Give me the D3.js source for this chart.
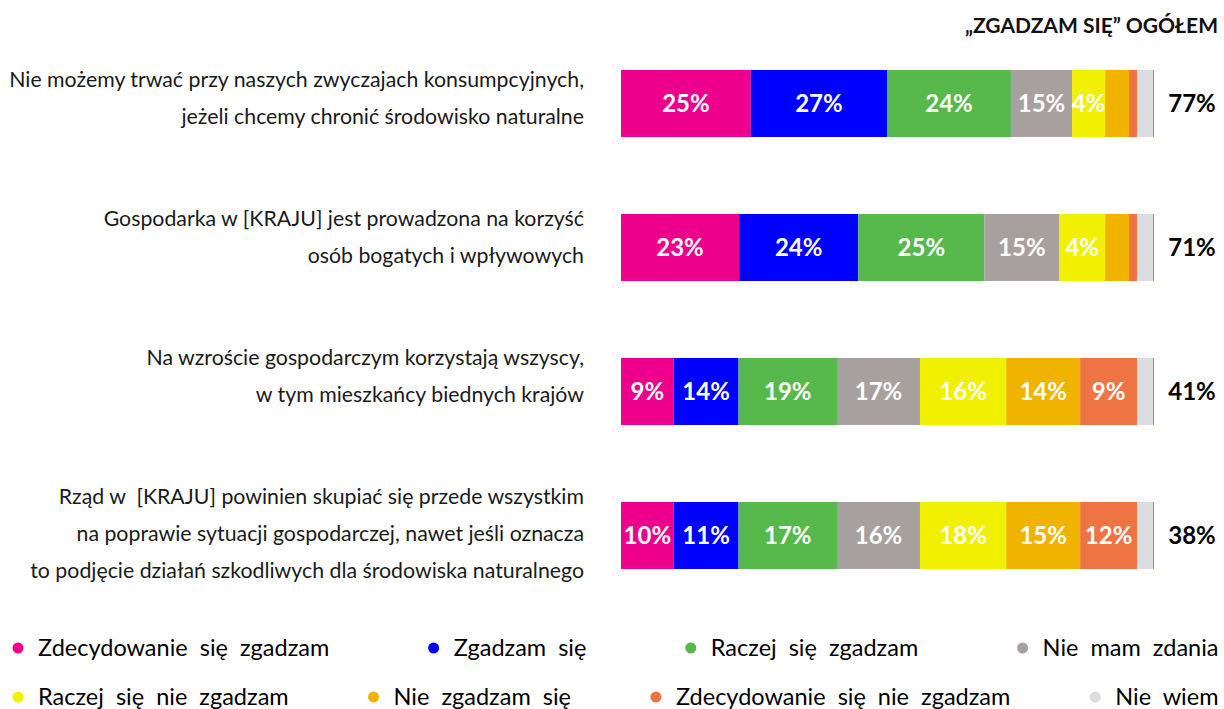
<!DOCTYPE html>
<html>
<head>
<meta charset="utf-8">
<script src="https://cdn.jsdelivr.net/npm/d3@7"></script>
<style>
  body { margin: 0; background: #fff; }
  svg { display: block; font-family: Lato, "Noto Sans", sans-serif; }
</style>
</head>
<body>
<svg id="chart" width="1224" height="709"></svg>
<script>
// Statements (label lines)
const categories = [
  ['Nie możemy trwać przy naszych zwyczajach konsumpcyjnych,', 'jeżeli chcemy chronić środowisko naturalne'],
  ['Gospodarka w [KRAJU] jest prowadzona na korzyść', 'osób bogatych i wpływowych'],
  ['Na wzroście gospodarczym korzystają wszyscy,', 'w tym mieszkańcy biednych krajów'],
  ['Rząd w  [KRAJU] powinien skupiać się przede wszystkim', 'na poprawie sytuacji gospodarczej, nawet jeśli oznacza', 'to podjęcie działań szkodliwych dla środowiska naturalnego'],
];

const seriesNames = [
  'Zdecydowanie się zgadzam', 'Zgadzam się', 'Raczej się zgadzam', 'Nie mam zdania',
  'Raczej się nie zgadzam', 'Nie zgadzam się', 'Zdecydowanie się nie zgadzam', 'Nie wiem',
];
const colors = ['#ec008c', '#0000ff', '#57b94b', '#a8a09e', '#f0f000', '#f0b400', '#ee7444', '#dcdcdc'];

// segment shares as drawn (per series, one value per statement)
const zdecydowanieTak = [24.4, 22.2, 9.9, 9.9];
const zgadzam = [25.6, 22.4, 12.2, 12.2];
const raczejTak = [23.3, 23.7, 18.5, 18.5];
const nieMamZdania = [11.5, 14.1, 15.6, 15.6];
const raczejNie = [6.2, 8.6, 16.2, 16.2];
const nieZgadzam = [4.5, 4.5, 13.9, 13.9];
const zdecydowanieNie = [1.5, 1.5, 10.7, 10.7];
const nieWiem = [3.0, 3.0, 3.0, 3.0];

// printed labels
const segmentLabels = [
  ['25%', '27%', '24%', '15%', '4%', '', '', ''],
  ['23%', '24%', '25%', '15%', '4%', '', '', ''],
  ['9%', '14%', '19%', '17%', '16%', '14%', '9%', ''],
  ['10%', '11%', '17%', '16%', '18%', '15%', '12%', ''],
];
const totals = ['77%', '71%', '41%', '38%'];

const series = [zdecydowanieTak, zgadzam, raczejTak, nieMamZdania, raczejNie, nieZgadzam, zdecydowanieNie, nieWiem];
const rows = categories.map((c, i) => {
  const r = { id: i };
  seriesNames.forEach((k, j) => { r[k] = series[j][i]; });
  return r;
});

const svg = d3.select('#chart');

const x = d3.scaleLinear().domain([0, 100]).range([621, 1153]);
const y = d3.scalePoint().domain(d3.range(categories.length)).range([103.5, 535.5]);
const labelY = d3.scalePoint().domain(d3.range(categories.length)).range([80, 497]);
const barH = 67;
const color = d3.scaleOrdinal().domain(seriesNames).range(colors);

const stacked = d3.stack().keys(seriesNames)(rows);

// Header
svg.append('text')
  .attr('x', 1218).attr('y', 33)
  .attr('text-anchor', 'end')
  .attr('font-size', 21).attr('font-weight', 700)
  .attr('fill', '#111')
  .text('„ZGADZAM SIĘ” OGÓŁEM');

// Bars
const layers = svg.append('g').selectAll('g')
  .data(stacked)
  .join('g')
  .attr('fill', d => color(d.key));

layers.selectAll('rect')
  .data(d => d)
  .join('rect')
  .attr('x', d => x(d[0]))
  .attr('width', d => x(d[1]) - x(d[0]))
  .attr('y', d => y(d.data.id) - barH / 2)
  .attr('height', barH);

// thin edge at bar end
svg.append('g').selectAll('rect')
  .data(rows)
  .join('rect')
  .attr('x', x(100))
  .attr('width', 1)
  .attr('y', d => y(d.id) - barH / 2)
  .attr('height', barH)
  .attr('fill', colors[6]);

// Segment labels
layers.each(function (layer, j) {
  d3.select(this).selectAll('text')
    .data(layer)
    .join('text')
    .attr('x', d => (x(d[0]) + x(d[1])) / 2)
    .attr('y', d => y(d.data.id))
    .attr('dy', '0.36em')
    .attr('text-anchor', 'middle')
    .attr('font-size', 24).attr('font-weight', 700)
    .attr('fill', '#fff')
    .text(d => segmentLabels[d.data.id][j]);
});

// Totals
svg.append('g').selectAll('text')
  .data(totals)
  .join('text')
  .attr('x', 1192)
  .attr('y', (d, i) => y(i))
  .attr('dy', '0.36em')
  .attr('text-anchor', 'middle')
  .attr('font-size', 24).attr('font-weight', 700)
  .attr('fill', '#000')
  .text(d => d);

// Category labels
svg.append('g').selectAll('text')
  .data(categories)
  .join('text')
  .attr('text-anchor', 'end')
  .attr('font-size', 21.3)
  .attr('fill', '#1a1a1a')
  .style('white-space', 'pre')
  .each(function (lines, i) {
    d3.select(this).selectAll('tspan')
      .data(lines)
      .join('tspan')
      .attr('x', 584)
      .attr('y', (l, k) => labelY(i) + k * 37)
      .attr('dy', '0.35em')
      .text(l => l);
  });

// Legend: two justified rows
const legendRows = [seriesNames.slice(0, 4), seriesNames.slice(4)];
const legendY = [648, 697];
const left = 12, right = 1218;

legendRows.forEach((names, r) => {
  const g = svg.append('g');
  const items = g.selectAll('g')
    .data(names)
    .join('g');
  items.append('circle')
    .attr('cx', 6).attr('cy', legendY[r]).attr('r', 5.5)
    .attr('fill', d => color(d));
  items.append('text')
    .attr('x', 26).attr('y', legendY[r])
    .attr('dy', '0.35em')
    .attr('font-size', 23.5)
    .attr('word-spacing', 6)
    .attr('fill', '#000')
    .text(d => d);
  const widths = items.nodes().map(n => n.getBBox().width);
  const gap = (right - left - d3.sum(widths)) / (names.length - 1);
  let pos = left;
  items.attr('transform', (d, i) => {
    const t = `translate(${pos},0)`;
    pos += widths[i] + gap;
    return t;
  });
});
</script>
</body>
</html>
